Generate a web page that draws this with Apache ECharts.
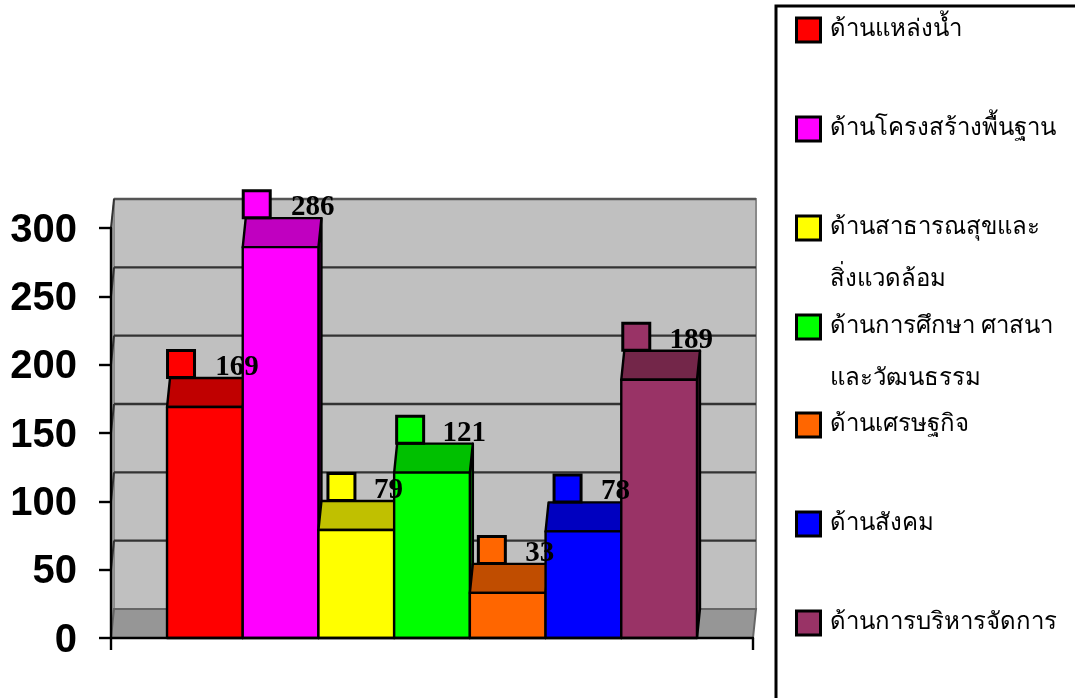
<!DOCTYPE html>
<html><head><meta charset="utf-8">
<style>html,body{margin:0;padding:0;background:#fff}#c{width:1075px;height:698px}</style>
<script src="https://cdn.jsdelivr.net/npm/echarts@6/dist/echarts.min.js"></script>
</head><body><div id="c"></div>
<script>
const categories = ['ด้านแหล่งน้ำ','ด้านโครงสร้างพื้นฐาน','ด้านสาธารณสุขและ\nสิ่งแวดล้อม','ด้านการศึกษา ศาสนา\nและวัฒนธรรม','ด้านเศรษฐกิจ','ด้านสังคม','ด้านการบริหารจัดการ'];
const values = [169,286,79,121,33,78,189];
const colors = ['#ff0000','#ff00ff','#ffff00','#00ff00','#ff6600','#0000ff','#993366'];
const topColors = ['#c00000','#c000c0','#c0c000','#00c000','#c04d00','#0000c0','#732649'];
const sideColors = ['#800000','#800080','#808000','#008000','#803300','#000080','#4d1a33'];
const yTicks = [0,50,100,150,200,250,300];
const xMin = -0.74, xMax = 7.74, yMax = 300;
const DX = 3, DY = -29;
const THAI = "'Liberation Serif','Noto Sans','DejaVu Serif',serif";

const chart = echarts.init(document.getElementById('c'));

function wallItem(params, api){
  const t = api.value(0);
  const l = api.coord([xMin,t]), r = api.coord([xMax,t]);
  const kids = [];
  if(t===0){
    const tl = api.coord([xMin,yMax]), tr = api.coord([xMax,yMax]);
    kids.push({type:'polygon',shape:{points:[[l[0]+DX,l[1]+DY],[r[0]+DX,r[1]+DY],[tr[0]+DX,tr[1]+DY],[tl[0]+DX,tl[1]+DY]]},style:{fill:'#c0c0c0',stroke:'#8a8a8a',lineWidth:2}});
    kids.push({type:'polygon',shape:{points:[[l[0],l[1]],[tl[0],tl[1]],[tl[0]+DX,tl[1]+DY],[l[0]+DX,l[1]+DY]]},style:{fill:'#a0a0a0',stroke:'#8a8a8a',lineWidth:1}});
    kids.push({type:'polygon',shape:{points:[[l[0],l[1]],[r[0],r[1]],[r[0]+DX,r[1]+DY],[l[0]+DX,l[1]+DY]]},style:{fill:'#969696',stroke:'#666',lineWidth:2}});
  } else {
    const c = t===yMax ? '#555' : '#333';
    kids.push({type:'line',shape:{x1:l[0]+DX,y1:l[1]+DY,x2:r[0]+DX,y2:r[1]+DY},style:{stroke:c,lineWidth:2.4}});
    kids.push({type:'line',shape:{x1:l[0],y1:l[1],x2:l[0]+DX,y2:l[1]+DY},style:{stroke:'#333',lineWidth:2}});
  }
  return {type:'group',children:kids};
}
function barItem(idx){
  return function(params, api){
    const i = api.value(0), v = api.value(1);
    const a = api.coord([i,v]), b = api.coord([i+1,0]);
    const x0=a[0], x1=b[0], yt=a[1], yb=b[1];
    const st = f => ({fill:f,stroke:'#000',lineWidth:2.4,lineJoin:'round'});
    return {type:'group',children:[
      {type:'polygon',shape:{points:[[x1,yt],[x1+DX,yt+DY],[x1+DX,yb+DY],[x1,yb]]},style:st(sideColors[idx])},
      {type:'polygon',shape:{points:[[x0,yt],[x0+DX,yt+DY],[x1+DX,yt+DY],[x1,yt]]},style:st(topColors[idx])},
      {type:'rect',shape:{x:x0,y:yt,width:x1-x0,height:yb-yt},style:st(colors[idx])}
    ]};
  };
}
function labelItem(params, api){
  const i = api.value(0), v = api.value(1);
  const a = api.coord([i,v]);
  const yb = a[1]+DY;
  const keyShift = [0,0,9,2,8,8,1][i];
  return {type:'group',children:[
    {type:'rect',shape:{x:a[0]+0.5+keyShift,y:yb-27.5,width:27,height:27},style:{fill:colors[i],stroke:'#000',lineWidth:3}},
    {type:'text',style:{text:String(v),x:a[0]+70,y:yb-10.5,align:'center',verticalAlign:'middle',fill:'#000',font:"bold 29px 'Liberation Serif',serif"}}
  ]};
}

const lh = 52, legendCY = [30,129,228,327,425,524,623];
const series = [{type:'custom',name:'wall',z:1,silent:true,renderItem:wallItem,encode:{x:1,y:0},data:yTicks.map(t=>[t,0])}];
categories.forEach((n,i)=>series.push({type:'custom',name:n,z:2,silent:true,itemStyle:{color:colors[i]},renderItem:barItem(i),encode:{x:0,y:1},data:[[i,values[i]]]}));
series.push({type:'custom',name:'labels',z:3,silent:true,renderItem:labelItem,encode:{x:0,y:1},data:values.map((v,i)=>[i,v])});

const legends = categories.map((n,i)=>{
  const two = n.indexOf('\n')>=0;
  return {
    data:[{name:n,icon:'rect',itemStyle:{color:colors[i],borderColor:'#000',borderWidth:3}}],
    left:795, top: legendCY[i] - (two ? 1.5*lh : 0.5*lh),
    orient:'vertical', itemWidth:24, itemHeight:24, selectedMode:false, padding:0,
    formatter: s => two ? ' \n'+s : s,
    textStyle:{fontFamily:THAI,fontSize:24,lineHeight:lh,color:'#000',padding:[0,0,0,4]}
  };
});

const tickFont = {color:'#000',fontFamily:"'Liberation Sans',Arial,sans-serif",fontWeight:'bold',fontSize:40};
chart.setOption({
  animation:false,
  backgroundColor:'#fff',
  grid:{left:111,top:228,width:642,height:410,containLabel:false},
  xAxis:{type:'value',min:xMin,max:xMax,z:10,splitLine:{show:false},axisLabel:{show:false},
    axisLine:{show:true,onZero:false,lineStyle:{color:'#000',width:2.4}},
    axisTick:{show:true,length:12,lineStyle:{color:'#000',width:2.4},customValues:[xMin,xMax]}},
  yAxis:{type:'value',min:0,max:yMax,interval:50,z:10,splitLine:{show:false},
    axisLine:{show:true,onZero:false,lineStyle:{color:'#000',width:2.4}},
    axisTick:{show:true,length:12,lineStyle:{color:'#000',width:2.4}},
    axisLabel:Object.assign({margin:34,formatter:'{t|{value}}',rich:{t:Object.assign({padding:[5,0,0,0],lineHeight:44},tickFont)}},tickFont)},
  legend:legends,
  graphic:[{type:'rect',z:-1,shape:{x:776,y:6,width:400,height:800},style:{fill:'none',stroke:'#000',lineWidth:3}}],
  series
});
</script></body></html>
